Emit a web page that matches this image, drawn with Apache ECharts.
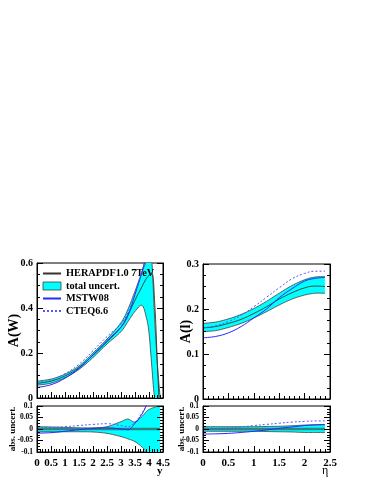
<!DOCTYPE html>
<html>
<head>
<meta charset="utf-8">
<script src="https://cdn.jsdelivr.net/npm/echarts@6/dist/echarts.min.js"></script>
<style>
  html, body { margin: 0; padding: 0; background: #fff; }
  #chart { width: 374px; height: 484px; }
</style>
</head>
<body>
<div id="chart"></div>
<script>
// W asymmetry vs boson rapidity y (left panels)
var yW = [0, 0.5, 1, 1.5, 2, 2.5, 3, 3.25, 3.5, 3.75, 3.9, 4.0, 4.1, 4.2, 4.3, 4.4];
var herW = [0.065, 0.075, 0.098, 0.135, 0.19, 0.25, 0.315, 0.37, 0.435, 0.495, 0.53, 0.545, 0.55, 0.43, 0.15, -0.12];
var upW = [0.075, 0.084, 0.106, 0.142, 0.2, 0.262, 0.335, 0.395, 0.475, 0.56, 0.605, 0.63, 0.61, 0.36, 0.15, 0];
var loW = [0.057, 0.066, 0.09, 0.127, 0.18, 0.24, 0.295, 0.34, 0.385, 0.412, 0.36, 0.29, 0.14, 0, 0, 0];
var mstwW = [0.047, 0.059, 0.088, 0.132, 0.192, 0.255, 0.315, 0.367, 0.46, 0.56, 0.63, 0.665, null, null, null, null];
var cteqW = [0.069, 0.081, 0.108, 0.15, 0.21, 0.273, 0.33, 0.38, 0.465, 0.565, 0.63, 0.665, null, null, null, null];
// abs. uncert. (difference to HERAPDF central), left
var upWd = [0.01, 0.009, 0.007, 0.005, 0.005, 0.01, 0.032, 0.043, 0.03, 0.055, 0.075, 0.085, 0.09, 0.095, 0.098, 0.1];
var loWd = [-0.012, -0.012, -0.012, -0.012, -0.013, -0.019, -0.033, -0.043, -0.055, -0.078, -0.098, -0.11, -0.12, -0.12, -0.12, -0.12];
var mstwWd = [-0.018, -0.016, -0.01, -0.003, 0.002, 0.005, 0.0, -0.003, 0.025, 0.065, 0.1, 0.12, null, null, null, null];
var cteqWd = [0.004, 0.006, 0.01, 0.015, 0.02, 0.023, 0.015, 0.01, 0.03, 0.07, 0.1, 0.12, null, null, null, null];

// lepton asymmetry vs eta (right panels)
var eta = [0, 0.25, 0.5, 0.75, 1, 1.25, 1.5, 1.75, 2, 2.2, 2.4];
var herL = [0.158, 0.161, 0.168, 0.177, 0.19, 0.205, 0.222, 0.236, 0.247, 0.251, 0.25];
var upL = [0.168, 0.171, 0.178, 0.188, 0.201, 0.217, 0.235, 0.252, 0.265, 0.271, 0.272];
var loL = [0.15, 0.152, 0.159, 0.168, 0.18, 0.194, 0.209, 0.222, 0.231, 0.235, 0.235];
var mstwL = [0.136, 0.139, 0.147, 0.161, 0.18, 0.2, 0.225, 0.245, 0.262, 0.268, 0.27];
var cteqL = [0.158, 0.163, 0.172, 0.186, 0.205, 0.226, 0.247, 0.267, 0.279, 0.284, 0.284];
var upLd = [0.01, 0.01, 0.01, 0.01, 0.01, 0.011, 0.012, 0.014, 0.017, 0.018, 0.018];
var loLd = [-0.01, -0.01, -0.01, -0.01, -0.01, -0.011, -0.012, -0.013, -0.015, -0.015, -0.015];
var mstwLd = [-0.022, -0.021, -0.019, -0.015, -0.01, -0.004, 0.003, 0.009, 0.015, 0.018, 0.02];
var cteqLd = [0, 0.002, 0.004, 0.009, 0.015, 0.02, 0.025, 0.03, 0.033, 0.035, 0.035];

var FONT = 'Liberation Serif';
var CYAN = '#00ffff';
var EDGE = '#3c3c3c';
var BLUE = '#2828ff';
var BLUE2 = '#5555ff';

function pairs(xs, ys) {
  return xs.map(function (x, i) { return [x, ys[i]]; });
}
function zeros(xs) {
  return xs.map(function () { return 0; });
}

// catmull-rom through pixel points so the band edges look smooth
function spline(pts) {
  var out = [];
  for (var i = 0; i < pts.length - 1; i++) {
    var p0 = pts[Math.max(i - 1, 0)], p1 = pts[i], p2 = pts[i + 1], p3 = pts[Math.min(i + 2, pts.length - 1)];
    for (var k = 0; k < 8; k++) {
      var t = k / 8, t2 = t * t, t3 = t2 * t;
      out.push([0, 1].map(function (d) {
        return 0.5 * (2 * p1[d] + (-p0[d] + p2[d]) * t +
          (2 * p0[d] - 5 * p1[d] + 4 * p2[d] - p3[d]) * t2 +
          (-p0[d] + 3 * p1[d] - 3 * p2[d] + p3[d]) * t3);
      }));
    }
  }
  out.push(pts[pts.length - 1]);
  return out;
}

function xAx(grid, max, showLabel) {
  return {
    type: 'value', gridIndex: grid, min: 0, max: max, interval: 0.5, z: 10,
    axisLine: { onZero: false, lineStyle: { color: '#000', width: 1 } },
    axisTick: { inside: true, length: 6, lineStyle: { color: '#000' } },
    minorTick: { show: true, splitNumber: 5, length: 3, lineStyle: { color: '#000' } },
    splitLine: { show: false },
    axisLabel: { show: showLabel, color: '#000', fontFamily: FONT, fontWeight: 'bold', fontSize: 11, margin: 6 }
  };
}
function yAx(grid, min, max, step, name, gap, nameSize, labelSize, right) {
  return {
    type: 'value', gridIndex: grid, min: min, max: max, interval: step, z: 10,
    position: right ? 'right' : 'left',
    name: right ? '' : name, nameLocation: 'middle', nameGap: gap, nameRotate: 90,
    nameMoveOverlap: false,
    nameTextStyle: { color: '#000', fontFamily: FONT, fontWeight: 'bold', fontSize: nameSize },
    axisLine: { onZero: false, lineStyle: { color: '#000', width: 1 } },
    axisTick: { inside: true, length: 6, lineStyle: { color: '#000' } },
    minorTick: { show: true, splitNumber: 4, length: 3, lineStyle: { color: '#000' } },
    splitLine: { show: false },
    axisLabel: { show: !right, color: '#000', fontFamily: FONT, fontWeight: 'bold', fontSize: labelSize, margin: 4 }
  };
}

function band(xi, yi, xs, lo, up) {
  return {
    name: 'total uncert.', type: 'custom', xAxisIndex: xi, yAxisIndex: yi, clip: true, z: 2,
    itemStyle: { color: CYAN },
    data: xs.map(function (x, i) { return [x, lo[i], up[i]]; }),
    encode: { x: 0, y: [1, 2] },
    renderItem: function (params, api) {
      if (params.dataIndex !== 0) return;
      var top = spline(xs.map(function (x, i) { return api.coord([x, up[i]]); }));
      var bot = spline(xs.map(function (x, i) { return api.coord([x, lo[i]]); }));
      return {
        type: 'group',
        children: [
          { type: 'polygon', shape: { points: top.concat(bot.slice().reverse()) },
            style: { fill: CYAN, stroke: null } },
          { type: 'polyline', shape: { points: top }, style: { fill: null, stroke: EDGE, lineWidth: 0.8 } },
          { type: 'polyline', shape: { points: bot }, style: { fill: null, stroke: EDGE, lineWidth: 0.8 } }
        ]
      };
    }
  };
}
function curve(name, xi, yi, xs, ys, color, width, type) {
  return { name: name, type: 'line', xAxisIndex: xi, yAxisIndex: yi, data: pairs(xs, ys),
    smooth: 0.4, showSymbol: false, symbol: 'none', itemStyle: { color: color },
    lineStyle: { color: color, width: width, type: type || 'solid' }, z: 5 };
}

var series = [
  band(0, 0, yW, loW, upW),
  band(1, 1, yW, loWd, upWd),
  band(2, 2, eta, loL, upL),
  band(3, 3, eta, loLd, upLd),
  curve('HERAPDF1.0 7TeV', 0, 0, yW, herW, '#333', 0.9),
  curve('HERAPDF1.0 7TeV', 2, 2, eta, herL, '#333', 0.9),
  curve('HERAPDF1.0 7TeV', 1, 1, yW, zeros(yW), '#2a8585', 2.5),
  curve('HERAPDF1.0 7TeV', 3, 3, eta, zeros(eta), '#2a8585', 2.5),
  curve('MSTW08', 0, 0, yW, mstwW, BLUE, 1),
  curve('MSTW08', 1, 1, yW, mstwWd, BLUE, 1),
  curve('MSTW08', 2, 2, eta, mstwL, BLUE, 1),
  curve('MSTW08', 3, 3, eta, mstwLd, BLUE, 1),
  curve('CTEQ6.6', 0, 0, yW, cteqW, BLUE2, 1, [2, 2]),
  curve('CTEQ6.6', 1, 1, yW, cteqWd, BLUE2, 1, [2, 2]),
  curve('CTEQ6.6', 2, 2, eta, cteqL, BLUE2, 1, [2, 2]),
  curve('CTEQ6.6', 3, 3, eta, cteqLd, BLUE2, 1, [2, 2])
];

var chart = echarts.init(document.getElementById('chart'));
chart.setOption({
  animation: false,
  backgroundColor: '#fff',
  grid: [
    { left: 37, top: 263, width: 126, height: 135, show: true, borderColor: '#000', borderWidth: 1 },
    { left: 37, top: 406, width: 126, height: 46, show: true, borderColor: '#000', borderWidth: 1 },
    { left: 203, top: 264, width: 127, height: 135, show: true, borderColor: '#000', borderWidth: 1 },
    { left: 203, top: 406, width: 127, height: 46, show: true, borderColor: '#000', borderWidth: 1 }
  ],
  xAxis: [
    xAx(0, 4.5, false),
    xAx(1, 4.5, true),
    xAx(2, 2.5, false),
    xAx(3, 2.5, true)
  ],
  yAxis: [
    yAx(0, 0, 0.6, 0.2, 'A(W)', 16, 14, 10),
    yAx(1, -0.1, 0.1, 0.05, 'abs. uncert.', 20, 9, 7.5),
    yAx(2, 0, 0.3, 0.1, 'A(l)', 10, 14, 10),
    yAx(3, -0.1, 0.1, 0.05, 'abs. uncert.', 17, 9, 7.5),
    yAx(0, 0, 0.6, 0.2, '', 0, 14, 10, true),
    yAx(1, -0.1, 0.1, 0.05, '', 0, 9, 7.5, true),
    yAx(2, 0, 0.3, 0.1, '', 0, 14, 10, true),
    yAx(3, -0.1, 0.1, 0.05, '', 0, 9, 7.5, true)
  ],
  legend: {
    orient: 'vertical', left: 42, top: 268, padding: 0,
    itemWidth: 18, itemHeight: 8, itemGap: 1.5,
    textStyle: { color: '#000', fontFamily: FONT, fontWeight: 'bold', fontSize: 10.3, lineHeight: 11 },
    selectedMode: false,
    data: [
      { name: 'HERAPDF1.0 7TeV', itemStyle: { opacity: 0 } },
      { name: 'total uncert.', icon: 'rect', itemStyle: { color: CYAN, borderColor: EDGE, borderWidth: 0.8 } },
      { name: 'MSTW08', itemStyle: { opacity: 0 } },
      { name: 'CTEQ6.6', itemStyle: { opacity: 0 } }
    ]
  },
  graphic: [
    { type: 'text', left: 157, top: 466, style: { text: 'y', fill: '#000', font: 'bold 11px "Liberation Serif"' } },
    { type: 'text', left: 322, top: 465, style: { text: 'η', fill: '#000', font: '12px "Liberation Serif"' } }
  ],
  series: series
});
</script>
</body>
</html>
